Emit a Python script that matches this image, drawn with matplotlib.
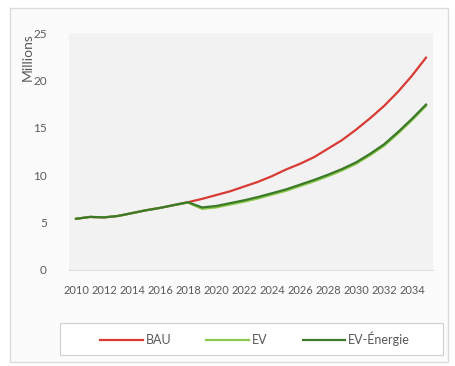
import matplotlib
matplotlib.use("Agg")
import matplotlib.pyplot as plt
from matplotlib.patches import Rectangle

years = list(range(2010, 2036))
bau = [5.4, 5.6, 5.55, 5.7, 6.0, 6.3, 6.55, 6.85, 7.15, 7.5, 7.9, 8.3, 8.8,
       9.3, 9.9, 10.6, 11.2, 11.9, 12.8, 13.7, 14.8, 16.0, 17.3, 18.8, 20.5, 22.4]
ev = [5.4, 5.6, 5.55, 5.7, 6.0, 6.3, 6.55, 6.85, 7.1, 6.45, 6.6, 6.9, 7.2,
      7.55, 7.95, 8.35, 8.85, 9.35, 9.9, 10.5, 11.2, 12.1, 13.1, 14.4, 15.8, 17.3]
ev_energie = [5.4, 5.6, 5.55, 5.7, 6.0, 6.3, 6.55, 6.85, 7.15, 6.6, 6.75, 7.05, 7.35,
              7.7, 8.1, 8.5, 9.0, 9.5, 10.05, 10.65, 11.35, 12.25, 13.25, 14.55, 15.95, 17.45]
y_ticks = [0, 5, 10, 15, 20, 25]

text_col = "#595959"
W, H = 455, 366
fig = plt.figure(figsize=(W / 100, H / 100), dpi=100)
fig.patch.set_facecolor("white")

# chart frame
fig.add_artist(Rectangle((10 / W, 1 - 362 / H), 438 / W, 354 / H,
                         transform=fig.transFigure, facecolor="#fbfbfb",
                         edgecolor="#dcdcdc", linewidth=1.0, zorder=-5))
# legend frame
fig.add_artist(Rectangle((60 / W, 1 - 355 / H), 383 / W, 32 / H,
                         transform=fig.transFigure, facecolor="white",
                         edgecolor="#d0d0d0", linewidth=0.8, zorder=-4))

ax = fig.add_axes([69 / W, 1 - 270 / H, 364 / W, 237 / H])
ax.set_zorder(1)
ax.set_facecolor("#f3f2f2")
x = list(range(len(years)))
ax.plot(x, bau, color="#d83a34", lw=1.6, label="BAU", zorder=3)
ax.plot(x, ev, color="#8cc84b", lw=1.6, label="EV", zorder=3)
ax.plot(x, ev_energie, color="#3c7a2a", lw=1.6, label="EV-Énergie", zorder=4)

ax.set_xlim(-0.5, len(years) - 0.5)
ax.set_ylim(0, 25)
ax.set_yticks(y_ticks)
ax.set_yticklabels([str(v) for v in y_ticks])
ax.set_xticks(x[::2])
ax.set_xticklabels([str(y) for y in years[::2]])
ax.tick_params(axis="both", length=0, colors=text_col)
ax.tick_params(axis="x", pad=11, labelsize=8)
ax.tick_params(axis="y", pad=16, labelsize=8.5)
for lab in ax.get_xticklabels() + ax.get_yticklabels():
    lab.set_fontfamily("Lato")
for s in ["top", "right", "left"]:
    ax.spines[s].set_visible(False)
ax.spines["bottom"].set_color("#e0e0e0")

fig.text(28 / W, 1 - 57 / H, "Millions", rotation=90, ha="center", va="center",
         fontsize=10, color=text_col, family="Lato")

handles, labels = ax.get_legend_handles_labels()
leg = fig.legend(handles, labels, loc="center", bbox_to_anchor=(255 / W, 1 - 339 / H),
                 ncol=3, frameon=False, handlelength=3.4, columnspacing=2.8,
                 handletextpad=0.25, prop={"family": "Lato", "size": 9})
for t in leg.get_texts():
    t.set_color(text_col)

fig.savefig("out.png", dpi=100)
